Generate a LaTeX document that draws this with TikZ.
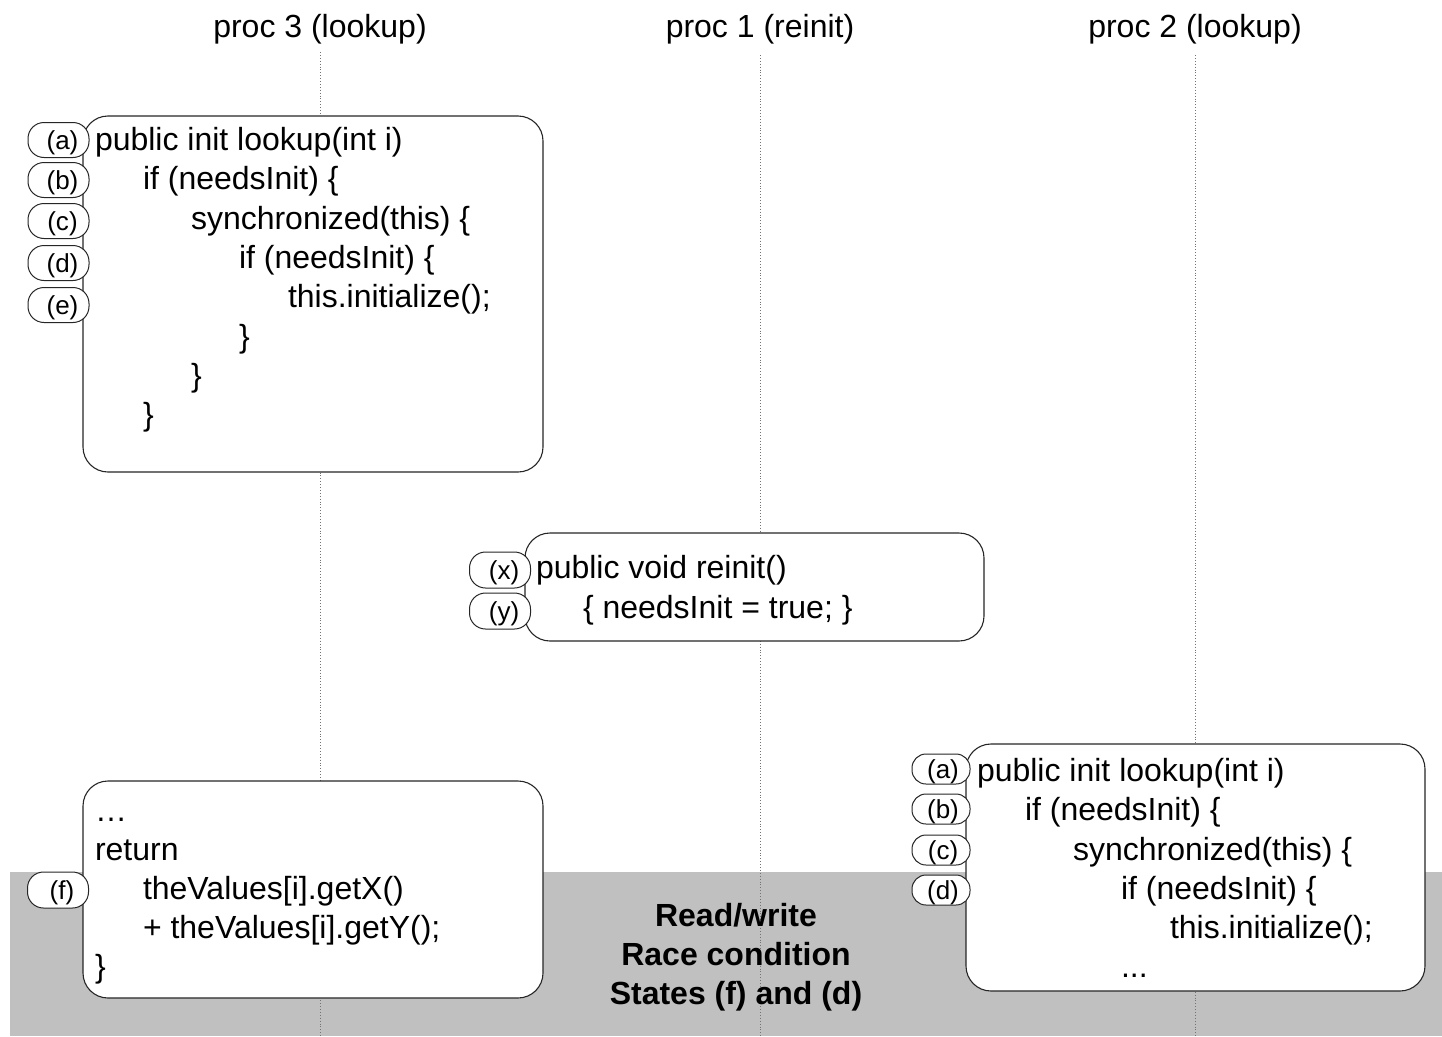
\documentclass[tikz,border=0pt]{standalone}
\usepackage{fontspec}
\setmainfont{Liberation Sans}
\begin{document}
\begin{tikzpicture}[x=1pt,y=-1pt,
  every node/.style={inner sep=0pt,outer sep=0pt},
  code/.style={anchor=base west,font=\fontsize{32}{38}\selectfont},
  proc/.style={anchor=base,font=\fontsize{32}{38}\selectfont},
  codebox/.style={draw=black!85,line width=1.1pt,fill=white,rounded corners=25pt},
  tab/.style={draw=black!85,line width=1pt,fill=white,rounded corners=16pt,
              minimum width=61pt,font=\fontsize{26}{30}\selectfont,text depth=0pt},
  life/.style={draw=black!55,line width=0.9pt,dotted},
  band/.style={anchor=base,font=\bfseries\fontsize{32}{38}\selectfont}]
\useasboundingbox (0,0) rectangle (1442,1036);
% gray band
\fill[fill={rgb,255:red,192;green,192;blue,192}] (10,872) rectangle (1442,1036);
% process headers
\node[proc] (p3) at (320,37) {proc 3 (lookup)};
\node[proc] (p1) at (760,37) {proc 1 (reinit)};
\node[proc] (p2) at (1195,37) {proc 2 (lookup)};
% lifelines
\coordinate (p3t) at (320,52); \coordinate (p3b) at (320,1036);
\coordinate (p1t) at (760,55); \coordinate (p1b) at (760,1036);
\coordinate (p2t) at (1195,55); \coordinate (p2b) at (1195,1036);
\draw[life] (p3t) -- (p3b);
\draw[life] (p1t) -- (p1b);
\draw[life] (p2t) -- (p2b);
% boxes
\node[codebox,minimum width=460pt,minimum height=356pt] (box1) at (313,294) {};
\node[codebox,minimum width=459pt,minimum height=108pt] (box2) at (754.5,587) {};
\node[codebox,minimum width=460pt,minimum height=217pt] (box3) at (313,889.5) {};
\node[codebox,minimum width=459pt,minimum height=247pt] (box4) at (1195.5,867.5) {};
% box 1 code
\node[code] (l11) at (95,150) {public init lookup(int i)};
\node[code] (l12) at (143,189) {if (needsInit) \{};
\node[code] (l13) at (191,229) {synchronized(this) \{};
\node[code] (l14) at (239,268) {if (needsInit) \{};
\node[code] (l15) at (288,307) {this.initialize();};
\node[code] (l16) at (239,347) {\}};
\node[code] (l17) at (191,386) {\}};
\node[code] (l18) at (143,425) {\}};
% box 2 code
\node[code] (l21) at (536,578) {public void reinit()};
\node[code] (l22) at (583,618) {\{ needsInit = true; \}};
% box 3 code
\node[code] (l31) at (95,821) {…};
\node[code] (l32) at (95,860) {return};
\node[code] (l33) at (143,899) {theValues[i].getX()};
\node[code] (l34) at (143,938) {+ theValues[i].getY();};
\node[code] (l35) at (95,977) {\}};
% box 4 code
\node[code] (l41) at (977,781) {public init lookup(int i)};
\node[code] (l42) at (1025,820) {if (needsInit) \{};
\node[code] (l43) at (1073,860) {synchronized(this) \{};
\node[code] (l44) at (1121,899) {if (needsInit) \{};
\node[code] (l45) at (1170,938) {this.initialize();};
\node[code] (l46) at (1121,977) {...};
% tabs box 1
\node[tab,minimum height=35pt] (t1a) at (58.5,140) {\hspace*{8pt}(a)};
\node[tab,minimum height=35pt] (t1b) at (58.5,180) {\hspace*{8pt}(b)};
\node[tab,minimum height=35pt] (t1c) at (58.5,221) {\hspace*{8pt}(c)};
\node[tab,minimum height=35pt] (t1d) at (58.5,263) {\hspace*{8pt}(d)};
\node[tab,minimum height=35pt] (t1e) at (58.5,305) {\hspace*{8pt}(e)};
% tabs box 2
\node[tab,minimum height=36pt] (t2x) at (500,570) {\hspace*{8pt}(x)};
\node[tab,minimum height=36pt] (t2y) at (500,611) {\hspace*{8pt}(y)};
% tab box 3
\node[tab,minimum height=36pt] (t3f) at (58,890) {\hspace*{8pt}(f)};
% tabs box 4
\node[tab,minimum width=58pt,minimum height=30pt,rounded corners=14pt] (t4a) at (941,769) {\hspace*{4pt}(a)};
\node[tab,minimum width=58pt,minimum height=30pt,rounded corners=14pt] (t4b) at (941,809) {\hspace*{4pt}(b)};
\node[tab,minimum width=58pt,minimum height=30pt,rounded corners=14pt] (t4c) at (941,850) {\hspace*{4pt}(c)};
\node[tab,minimum width=58pt,minimum height=30pt,rounded corners=14pt] (t4d) at (941,890) {\hspace*{4pt}(d)};
% band text
\node[band] (r1) at (736,926) {Read/write};
\node[band] (r2) at (736,965) {Race condition};
\node[band] (r3) at (736,1004) {States (f) and (d)};
\end{tikzpicture}
\end{document}
